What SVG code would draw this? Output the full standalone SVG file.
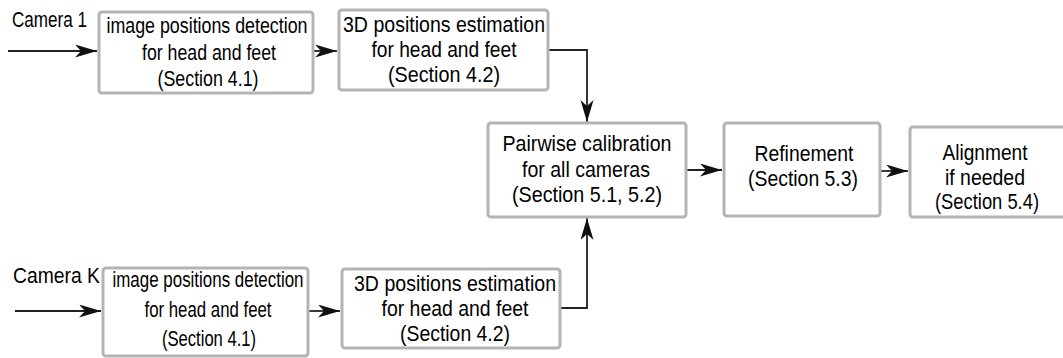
<svg xmlns="http://www.w3.org/2000/svg" width="1063" height="358" viewBox="0 0 1063 358">
<style>
.box{fill:#fff;stroke:#b4b4b4;stroke-width:3}
.t{font-family:"Liberation Sans",Arial,Helvetica,sans-serif;font-size:22px;fill:#000;text-anchor:middle}
.l{font-family:"Liberation Sans",Arial,Helvetica,sans-serif;font-size:22px;fill:#000}
.c{fill:none;stroke:#222;stroke-width:1.8}
</style>
<defs>
<marker id="ah" markerUnits="userSpaceOnUse" markerWidth="24" markerHeight="14" refX="22" refY="6.5" orient="auto">
<path d="M0,0 L22,6.5 L0,13 L6,6.5 z" fill="#111"/>
</marker>
</defs>
<g id="connectors">
<path class="c" d="M8,51 H97" marker-end="url(#ah)"/>
<path class="c" d="M314,51 H337" marker-end="url(#ah)"/>
<path class="c" d="M549,50 H587 V122" marker-end="url(#ah)"/>
<path class="c" d="M15,311 H101" marker-end="url(#ah)"/>
<path class="c" d="M309,311 H340" marker-end="url(#ah)"/>
<path class="c" d="M561,308 H587 V218" marker-end="url(#ah)"/>
<path class="c" d="M687,170 H722" marker-end="url(#ah)"/>
<path class="c" d="M881,171 H908" marker-end="url(#ah)"/>
</g>
<g id="label-camera1"><text class="l" x="12" y="27" textLength="75" lengthAdjust="spacingAndGlyphs">Camera 1</text></g>
<g id="label-cameraK"><text class="l" x="13" y="283" textLength="87" lengthAdjust="spacingAndGlyphs">Camera K</text></g>
<g id="node-detect1">
<rect class="box" x="99" y="12" width="214" height="81" rx="3"/>
<text class="t" x="207" y="33" textLength="201" lengthAdjust="spacingAndGlyphs">image positions detection</text>
<text class="t" x="209" y="60" textLength="134" lengthAdjust="spacingAndGlyphs">for head and feet</text>
<text class="t" x="208" y="86" textLength="101" lengthAdjust="spacingAndGlyphs">(Section 4.1)</text>
</g>
<g id="node-estim1">
<rect class="box" x="339" y="10" width="209" height="80" rx="3"/>
<text class="t" x="444" y="32" textLength="202" lengthAdjust="spacingAndGlyphs">3D positions estimation</text>
<text class="t" x="444" y="57" textLength="145" lengthAdjust="spacingAndGlyphs">for head and feet</text>
<text class="t" x="444" y="82" textLength="112" lengthAdjust="spacingAndGlyphs">(Section 4.2)</text>
</g>
<g id="node-detectK">
<rect class="box" x="103" y="268" width="205" height="88" rx="3"/>
<text class="t" x="208" y="287" textLength="191" lengthAdjust="spacingAndGlyphs">image positions detection</text>
<text class="t" x="208" y="317" textLength="127" lengthAdjust="spacingAndGlyphs">for head and feet</text>
<text class="t" x="209" y="346" textLength="94" lengthAdjust="spacingAndGlyphs">(Section 4.1)</text>
</g>
<g id="node-estimK">
<rect class="box" x="342" y="269" width="218" height="79" rx="3"/>
<text class="t" x="455" y="291" textLength="202" lengthAdjust="spacingAndGlyphs">3D positions estimation</text>
<text class="t" x="455" y="316" textLength="147" lengthAdjust="spacingAndGlyphs">for head and feet</text>
<text class="t" x="455" y="341" textLength="110" lengthAdjust="spacingAndGlyphs">(Section 4.2)</text>
</g>
<g id="node-pairwise">
<rect class="box" x="488" y="123" width="198" height="94" rx="3"/>
<text class="t" x="587" y="151" textLength="169" lengthAdjust="spacingAndGlyphs">Pairwise calibration</text>
<text class="t" x="586" y="177" textLength="128" lengthAdjust="spacingAndGlyphs">for all cameras</text>
<text class="t" x="587" y="202" textLength="150" lengthAdjust="spacingAndGlyphs">(Section 5.1, 5.2)</text>
</g>
<g id="node-refinement">
<rect class="box" x="724" y="123" width="156" height="93" rx="3"/>
<text class="t" x="804" y="161" textLength="99" lengthAdjust="spacingAndGlyphs">Refinement</text>
<text class="t" x="803" y="186" textLength="110" lengthAdjust="spacingAndGlyphs">(Section 5.3)</text>
</g>
<g id="node-alignment">
<rect class="box" x="910" y="127" width="160" height="90" rx="3"/>
<text class="t" x="985" y="160" textLength="85" lengthAdjust="spacingAndGlyphs">Alignment</text>
<text class="t" x="985" y="185" textLength="80" lengthAdjust="spacingAndGlyphs">if needed</text>
<text class="t" x="987" y="209" textLength="104" lengthAdjust="spacingAndGlyphs">(Section 5.4)</text>
</g>
</svg>
